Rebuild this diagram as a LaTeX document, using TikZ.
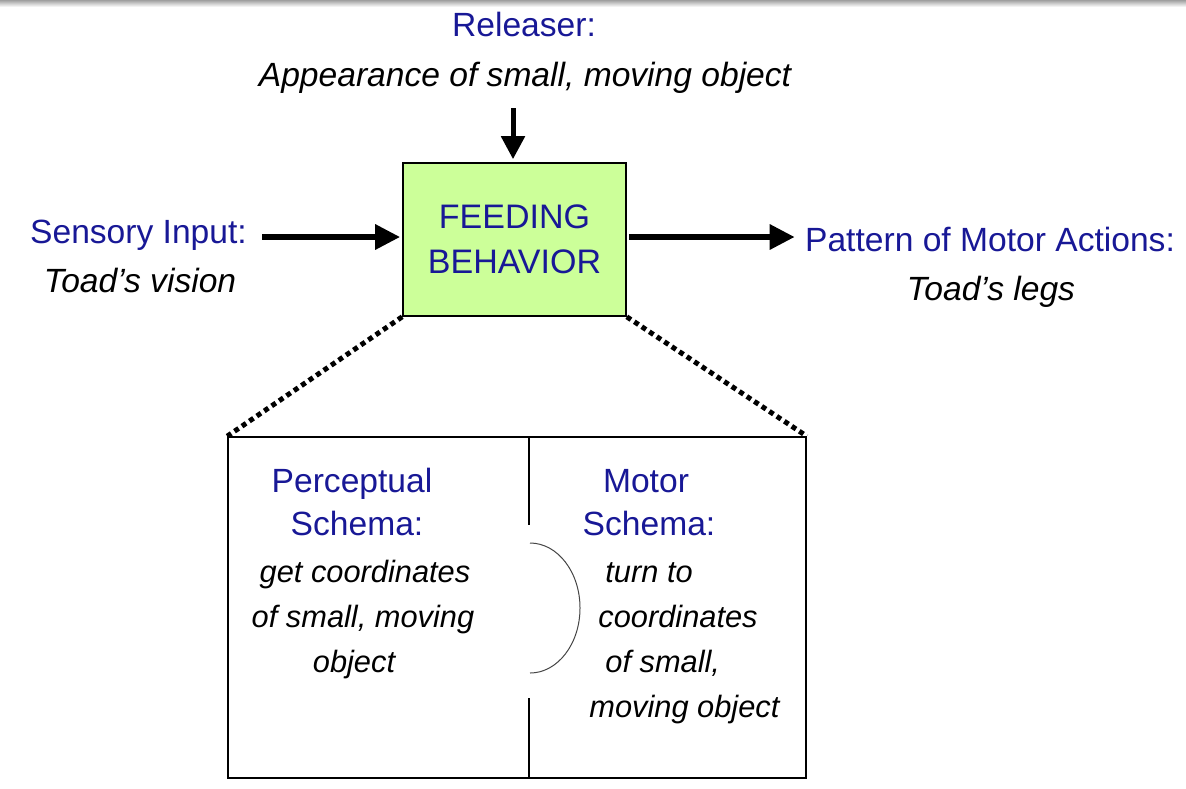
\documentclass[tikz,border=0pt]{standalone}
\usepackage{fontspec}
\setmainfont{Liberation Sans}
\usetikzlibrary{positioning}
\usetikzlibrary{arrows.meta}
\definecolor{schemablue}{RGB}{24,24,150}
\definecolor{feedgreen}{RGB}{204,255,153}
\tikzset{>=stealth}
\tikzset{
  lbl/.style={inner sep=0pt, anchor=base, font=\fontsize{16.8}{22.5}\selectfont},
  blu/.style={lbl, text=schemablue},
  itl/.style={lbl, font=\fontsize{16.8}{22.5}\selectfont\itshape},
  itlbox/.style={lbl, font=\fontsize{15.4}{22.5}\selectfont\itshape},
  fat/.style={line width=3pt, -{Triangle[length=12.5pt,width=12pt]}},
  fatdown/.style={line width=2.5pt, -{Triangle[length=11.5pt,width=11.5pt]}},
  dots/.style={line width=2.5pt, dash pattern=on 2.5pt off 2pt},
}

\begin{document}
\begin{tikzpicture}[x=0.5pt, y=-0.5pt]
\useasboundingbox (0,0) rectangle (1186,788);
\shade[top color=gray!75, bottom color=gray!10] (0,0) rectangle (1186,6);
% behaviour box
\node[draw, line width=0.8pt, fill=feedgreen, minimum width=111.5pt, minimum height=76.5pt,
  inner sep=0pt, align=center, text=schemablue, font=\fontsize{17}{22.5}\selectfont]
  (feed) at (514.5,239.5) {FEEDING\\BEHAVIOR};
% releaser
\node[blu] (relT) at (524,36) {Releaser:};
\node[itl] (relS) at (525,86) {Appearance of small, moving object};
\coordinate (relEnd) at (513,108);
\draw[fatdown, shorten >=1.5pt] (relEnd) -- (relEnd |- feed.north);
% sensory input
\node[blu] (sensT) at (138.5,243) {Sensory Input:};
\node[itl] (sensS) at (140,292) {Toad’s vision};
\draw[fat, shorten <=7.5pt, shorten >=1pt] (sensT.east |- 0,237) -- (feed.west |- 0,237);
% motor output
\node[blu] (patT) at (990,251) {Pattern of Motor Actions:};
\node[itl] (patS) at (991,300) {Toad’s legs};
\draw[fat, shorten <=1pt, shorten >=5pt] (feed.east |- 0,237) -- (patT.west |- 0,237);
% schema box
\node[draw, line width=0.8pt, minimum width=289pt, minimum height=170.5pt, inner sep=0pt]
  (schemas) at (517,607.5) {};
\draw[dots] (feed.south west) -- (schemas.north west);
\draw[dots] (feed.south east) -- (schemas.north east);
\draw[line width=0.8pt] (529,437) -- (529,525) (529,698) -- (529,778);
\draw[gray!55!black, line width=0.5pt] (530,543) arc[start angle=-90, end angle=90, x radius=50, y radius=65];
% perceptual schema
\node[blu] (percA) at (352,492) {Perceptual};
\node[blu] (percB) at (357,535) {Schema:};
\node[itlbox] (percC) at (365,582) {get coordinates};
\node[itlbox] (percD) at (363,627) {of small, moving};
\node[itlbox] (percE) at (354,672) {object};
% motor schema
\node[blu] (motA) at (646,492) {Motor};
\node[blu] (motB) at (649,535) {Schema:};
\node[itlbox, anchor=base west] (motC) at (605,582) {turn to};
\node[itlbox, anchor=base west] (motD) at (598,627) {coordinates};
\node[itlbox, anchor=base west] (motE) at (605,672) {of small,};
\node[itlbox, anchor=base west] (motF) at (589,717) {moving object};
\end{tikzpicture}
\end{document}
